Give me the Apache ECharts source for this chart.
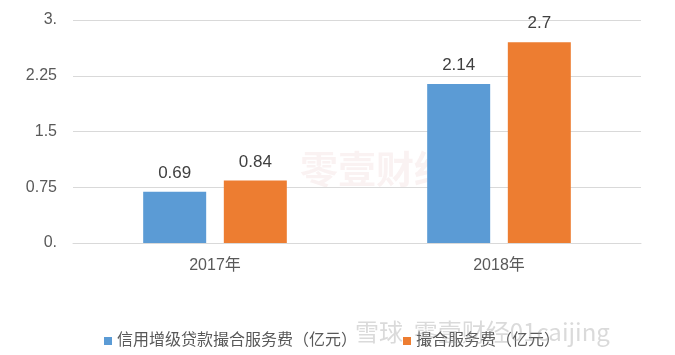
<!DOCTYPE html>
<html><head><meta charset="utf-8">
<script src="https://cdn.jsdelivr.net/npm/echarts@6/dist/echarts.min.js"></script>
<style>html,body{margin:0;padding:0;background:#fff}#c{width:675px;height:355px}</style>
</head><body><div id="c"></div>
<script>
const categories = ['2017年', '2018年'];
const seriesNames = ['信用增级贷款撮合服务费（亿元）', '撮合服务费（亿元）'];
const creditFee = [0.69, 2.14];
const matchFee = [0.84, 2.7];
const yTickLabels = {'0': '0.', '0.75': '0.75', '1.5': '1.5', '2.25': '2.25', '3': '3.'};

const chart = echarts.init(document.getElementById('c'));
const font = '"Liberation Sans","Noto Sans CJK SC",sans-serif';
chart.setOption({
  animation: false,
  textStyle: {fontFamily: font},
  grid: {left: 73, right: 34, top: 20, bottom: 112, containLabel: false},
  xAxis: {
    type: 'category', data: categories,
    axisLine: {lineStyle: {color: '#d9d9d9', width: 1}},
    axisTick: {show: false},
    axisLabel: {color: '#595959', fontSize: 16, margin: 15, fontFamily: font}
  },
  yAxis: {
    type: 'value', min: 0, max: 3, interval: 0.75,
    axisLine: {show: false}, axisTick: {show: false},
    splitLine: {lineStyle: {color: '#d9d9d9', width: 1}},
    axisLabel: {color: '#595959', fontSize: 16, margin: 16, fontFamily: font,
      formatter: v => yTickLabels[String(v)] ?? String(v)}
  },
  legend: {
    left: 99, top: 328, itemWidth: 8, itemHeight: 8, itemGap: 46, icon: 'rect',
    textStyle: {color: '#595959', fontSize: 16, fontFamily: font},
    data: seriesNames
  },
  series: [
    {name: seriesNames[0], type: 'bar', data: creditFee, barWidth: 63, barGap: '28%',
     itemStyle: {color: '#5b9bd5'},
     label: {show: true, position: 'top', distance: 10, color: '#404040', fontSize: 17, fontFamily: font}},
    {name: seriesNames[1], type: 'bar', data: matchFee, barWidth: 63,
     itemStyle: {color: '#ed7d31'},
     label: {show: true, position: 'top', distance: 10, color: '#404040', fontSize: 17, fontFamily: font}}
  ],
  graphic: [
    {type: 'text', left: 300, top: 150, z: 0, silent: true,
     style: {text: '零壹财经', font: 'bold 38px "Noto Sans CJK SC"', fill: 'rgba(220,170,170,0.15)'}},
    {type: 'text', left: 355, top: 320, z: 100, silent: true,
     style: {text: '雪球  零壹财经01caijing', font: '24px "Noto Sans CJK SC"', fill: 'rgba(150,150,150,0.35)'}}
  ]
});
</script></body></html>
